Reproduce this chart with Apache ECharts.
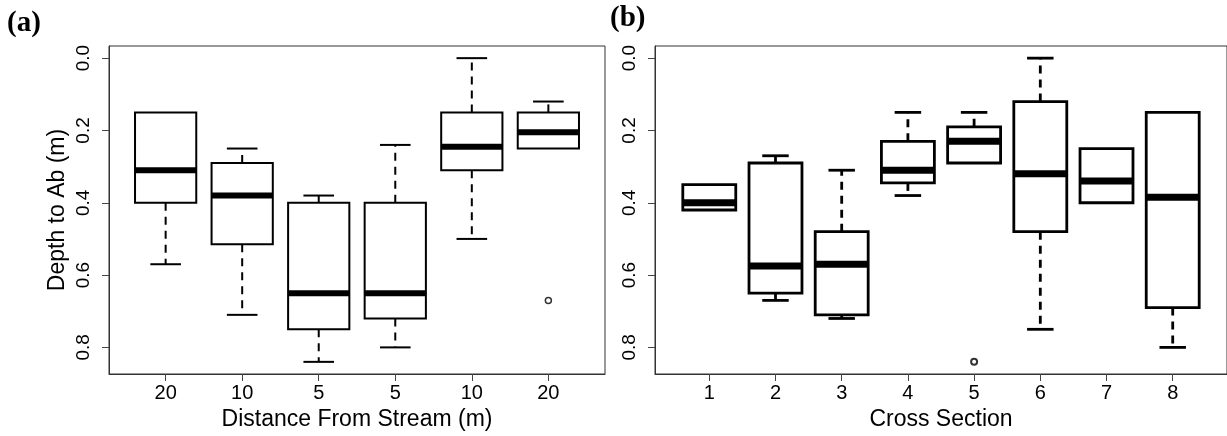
<!DOCTYPE html>
<html lang="en">
<head>
  <meta charset="UTF-8">
  <title>Depth to Ab boxplots</title>
  <style>
    html, body { margin: 0; padding: 0; background: #fff; }
    .charts-box { width: 1227px; height: 436px; }
  </style>
</head>
<body>
  <div class="charts-box"></div>

  <script src="https://cdn.jsdelivr.net/npm/echarts@6/dist/echarts.min.js"></script>
  <script>
    // (a) distance from stream
    var catsA = ['20', '10', '5', '5', '10', '20'];
    var minA = [0.15, 0.25, 0.38, 0.24, 0.00, 0.12];
    var q1A  = [0.15, 0.29, 0.40, 0.40, 0.15, 0.15];
    var medA = [0.31, 0.38, 0.65, 0.65, 0.245, 0.205];
    var q3A  = [0.40, 0.515, 0.75, 0.72, 0.31, 0.25];
    var maxA = [0.57, 0.71, 0.84, 0.80, 0.50, 0.25];
    var outPosA = [6];
    var outValA = [0.67];

    // (b) cross section
    var catsB = ['1', '2', '3', '4', '5', '6', '7', '8'];
    var minB = [0.35, 0.27, 0.31, 0.15, 0.15, 0.00, 0.25, 0.15];
    var q1B  = [0.35, 0.29, 0.48, 0.23, 0.19, 0.12, 0.25, 0.15];
    var medB = [0.40, 0.575, 0.57, 0.31, 0.23, 0.32, 0.34, 0.385];
    var q3B  = [0.42, 0.65, 0.71, 0.345, 0.29, 0.48, 0.40, 0.69];
    var maxB = [0.42, 0.67, 0.72, 0.38, 0.29, 0.75, 0.40, 0.80];
    var outPosB = [5];
    var outValB = [0.84];

    var yTicks = [0, 0.2, 0.4, 0.6, 0.8];
  </script>

  <script>
    var boxRows = (mins, q1s, meds, q3s, maxs) =>
      mins.map((v, i) => [i + 1, v, q1s[i], meds[i], q3s[i], maxs[i]]);

    var idx = (cats) => cats.map((c, i) => i + 1);

    // R style box: dashed whisker, solid staple, thick median
    var renderBox = (lw, mw) => function (params, api) {
      var x = api.value(0);
      var pt = (k) => api.coord([x, api.value(k)]);
      var half = api.size([0.4, 0])[0];
      var cap = api.size([0.2, 0])[0];
      var cx = pt(1)[0];
      var yMin = pt(1)[1], yQ1 = pt(2)[1], yMed = pt(3)[1], yQ3 = pt(4)[1], yMax = pt(5)[1];
      var solid = { stroke: '#000', lineWidth: lw };
      var dashed = { stroke: '#000', lineWidth: lw, lineDash: [8, 6] };
      var kids = [];
      if (yQ1 - yMin > 1) {
        kids.push({ type: 'line', shape: { x1: cx, y1: yQ1, x2: cx, y2: yMin }, style: dashed });
        kids.push({ type: 'line', shape: { x1: cx - cap, y1: yMin, x2: cx + cap, y2: yMin }, style: solid });
      }
      if (yMax - yQ3 > 1) {
        kids.push({ type: 'line', shape: { x1: cx, y1: yQ3, x2: cx, y2: yMax }, style: dashed });
        kids.push({ type: 'line', shape: { x1: cx - cap, y1: yMax, x2: cx + cap, y2: yMax }, style: solid });
      }
      kids.push({
        type: 'rect',
        shape: { x: cx - half, y: yQ1, width: half * 2, height: yQ3 - yQ1 },
        style: { fill: '#fff', stroke: '#000', lineWidth: lw }
      });
      kids.push({ type: 'line', shape: { x1: cx - half, y1: yMed, x2: cx + half, y2: yMed }, style: { stroke: '#000', lineWidth: mw } });
      return { type: 'group', children: kids };
    };

    var xAxisFor = (gi, cats, name) => ({
      type: 'value',
      gridIndex: gi,
      position: 'bottom',
      min: 0.5 - cats.length * 0.04,
      max: cats.length + 0.5 + cats.length * 0.04,
      axisLine: { show: true, onZero: false, lineStyle: { color: '#333', width: 1 } },
      splitLine: { show: false },
      axisTick: { show: true, inside: false, length: 7, customValues: idx(cats), lineStyle: { color: '#444', width: 1 } },
      axisLabel: {
        customValues: idx(cats),
        formatter: (v) => cats[Math.round(v) - 1],
        margin: 9,
        fontFamily: 'Liberation Sans',
        fontSize: 20,
        color: '#000'
      },
      name: name,
      nameLocation: 'middle',
      nameGap: 33,
      nameTextStyle: { fontFamily: 'Liberation Sans', fontSize: 23, color: '#000' }
    });

    var yAxisFor = (gi, name) => ({
      type: 'value',
      gridIndex: gi,
      position: 'left',
      inverse: true,
      min: -0.84 * 0.04,
      max: 0.84 * 1.04,
      axisLine: { show: true, onZero: false, lineStyle: { color: '#333', width: 1 } },
      splitLine: { show: false },
      axisTick: { show: true, inside: false, length: 7, customValues: yTicks, lineStyle: { color: '#444', width: 1 } },
      axisLabel: {
        customValues: yTicks,
        formatter: (v) => v.toFixed(1),
        rotate: 90,
        margin: 16,
        fontFamily: 'Liberation Sans',
        fontSize: 19,
        color: '#000'
      },
      name: name,
      nameLocation: 'middle',
      nameGap: 40,
      nameTextStyle: { fontFamily: 'Liberation Sans', fontSize: 23, color: '#000' }
    });

    var chartEl = document.querySelector('.charts-box');
    var chart = echarts.init(chartEl, null, { renderer: 'canvas' });

    var options = {
      animation: false,
      backgroundColor: '#fff',
      grid: [
        { left: 109, top: 46, width: 496, height: 328, show: true, borderColor: '#333', borderWidth: 1, backgroundColor: 'transparent' },
        { left: 655, top: 46, width: 577, height: 328, show: true, borderColor: '#333', borderWidth: 1, backgroundColor: 'transparent' }
      ],
      xAxis: [xAxisFor(0, catsA, 'Distance From Stream (m)'), xAxisFor(1, catsB, 'Cross Section')],
      yAxis: [yAxisFor(0, 'Depth to Ab (m)'), yAxisFor(1, '')],
      graphic: [
        { type: 'text', left: 7, top: 9, style: { text: '(a)', font: 'bold 29px "Liberation Serif"', fill: '#000' } },
        { type: 'text', left: 610, top: 4, style: { text: '(b)', font: 'bold 29px "Liberation Serif"', fill: '#000' } }
      ],
      series: [
        {
          type: 'custom',
          xAxisIndex: 0, yAxisIndex: 0,
          renderItem: renderBox(2, 6),
          encode: { x: 0, y: [1, 2, 3, 4, 5] },
          data: boxRows(minA, q1A, medA, q3A, maxA)
        },
        {
          type: 'custom',
          xAxisIndex: 1, yAxisIndex: 1,
          renderItem: renderBox(2.8, 7),
          encode: { x: 0, y: [1, 2, 3, 4, 5] },
          data: boxRows(minB, q1B, medB, q3B, maxB)
        },
        {
          type: 'scatter',
          xAxisIndex: 0, yAxisIndex: 0,
          symbol: 'circle', symbolSize: 6,
          itemStyle: { color: '#fff', borderColor: '#000', borderWidth: 1.5 },
          data: outPosA.map((p, i) => [p, outValA[i]])
        },
        {
          type: 'scatter',
          xAxisIndex: 1, yAxisIndex: 1,
          symbol: 'circle', symbolSize: 6,
          itemStyle: { color: '#fff', borderColor: '#000', borderWidth: 2 },
          data: outPosB.map((p, i) => [p, outValB[i]])
        }
      ]
    };

    chart.setOption(options);
  </script>
</body>
</html>
